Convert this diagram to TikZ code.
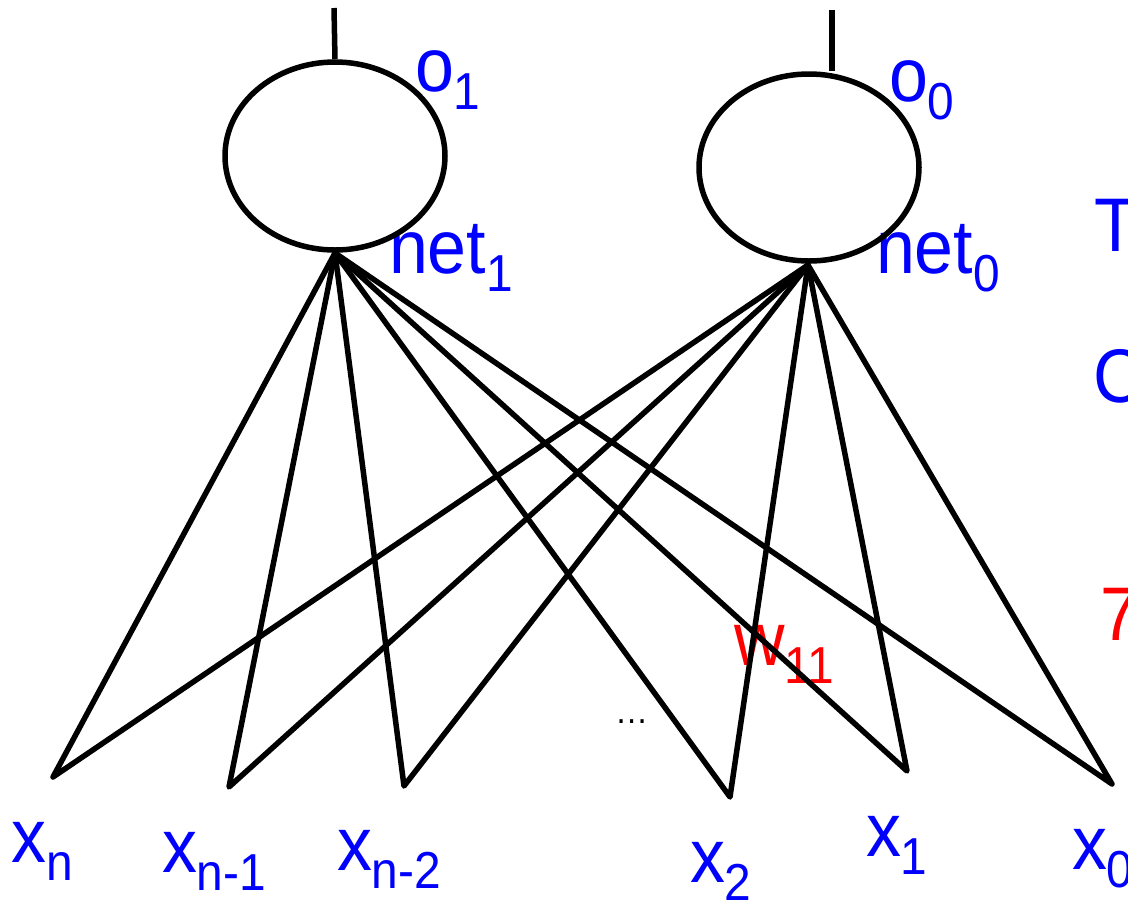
\documentclass[tikz,border=0pt]{standalone}
\usepackage{fontspec}
\setmainfont[FakeStretch=0.92]{Liberation Sans}
\usetikzlibrary{shapes.geometric}
\newcommand\mainsize{\fontsize{76}{76}\selectfont}
\newcommand\subsz{\fontsize{52}{52}\selectfont}
\newcommand\mysub[1]{\raisebox{-18pt}{\subsz #1}}
\begin{document}
\begin{tikzpicture}[x=1pt,y=-1pt,
  conn/.style={line width=5.5pt, line join=round, line cap=round, black},
  neuron/.style={draw, ellipse, line width=5.5pt, minimum width=220pt, minimum height=188pt, inner sep=0pt},
  lbl/.style={anchor=base west, inner sep=0pt, outer sep=0pt, font=\mainsize, text=blue},
  rlbl/.style={lbl, text=red}]
\useasboundingbox (0,0) rectangle (1128,903);
% labels (drawn first, lines go over them)
\node[lbl] (lo1) at (415,91) {o\mysub{1}};
\node[lbl] (lnet1) at (389,273) {net\mysub{1}};
\node[lbl] (lo0) at (889,101) {o\mysub{0}};
\node[lbl] (lnet0) at (876,273) {net\mysub{0}};
\node[lbl] (lT) at (1094,251) {T};
\node[lbl] (lC) at (1093,402) {C};
\node[rlbl] (l7) at (1100,640) {7};
\node[rlbl] (lw) at (734,665) {w\mysub{11}};
\node[lbl] (lxn) at (12,862) {x\mysub{n}};
\node[lbl] (lxn1) at (162,872) {x\mysub{n-1}};
\node[lbl] (lxn2) at (337,870) {x\mysub{n-2}};
\node[lbl] (lx2) at (690,882) {x\mysub{2}};
\node[lbl] (lx1) at (866,856) {x\mysub{1}};
\node[lbl] (lx0) at (1072,869) {x\mysub{0}};
\node[anchor=base west, inner sep=0pt, font=\fontsize{36}{36}\selectfont] (dots) at (615,723) {…};
% neurons
\node[neuron] (n1) at (335,156) {};
\node[neuron, minimum height=187pt] (n0) at (809,167.5) {};
\coordinate (hub1) at (335,253);
\coordinate (hub0) at (808,265);
\coordinate (out1) at (334,8);
\coordinate (out0) at (832,10);
\draw[conn, line cap=butt] (out1) -- (n1.north);
\draw[conn, line cap=butt] (out0) -- ([xshift=23pt]n0.north);
% inputs
\coordinate (en) at (53,777);
\coordinate (en1) at (229,787);
\coordinate (en2) at (404,786);
\coordinate (e2) at (730,797);
\coordinate (e1) at (907,771);
\coordinate (e0) at (1112,784);
\foreach \e in {en,en1,en2,e2,e1,e0}
  \draw[conn] (hub1) -- (\e) -- (hub0);
\end{tikzpicture}
\end{document}
